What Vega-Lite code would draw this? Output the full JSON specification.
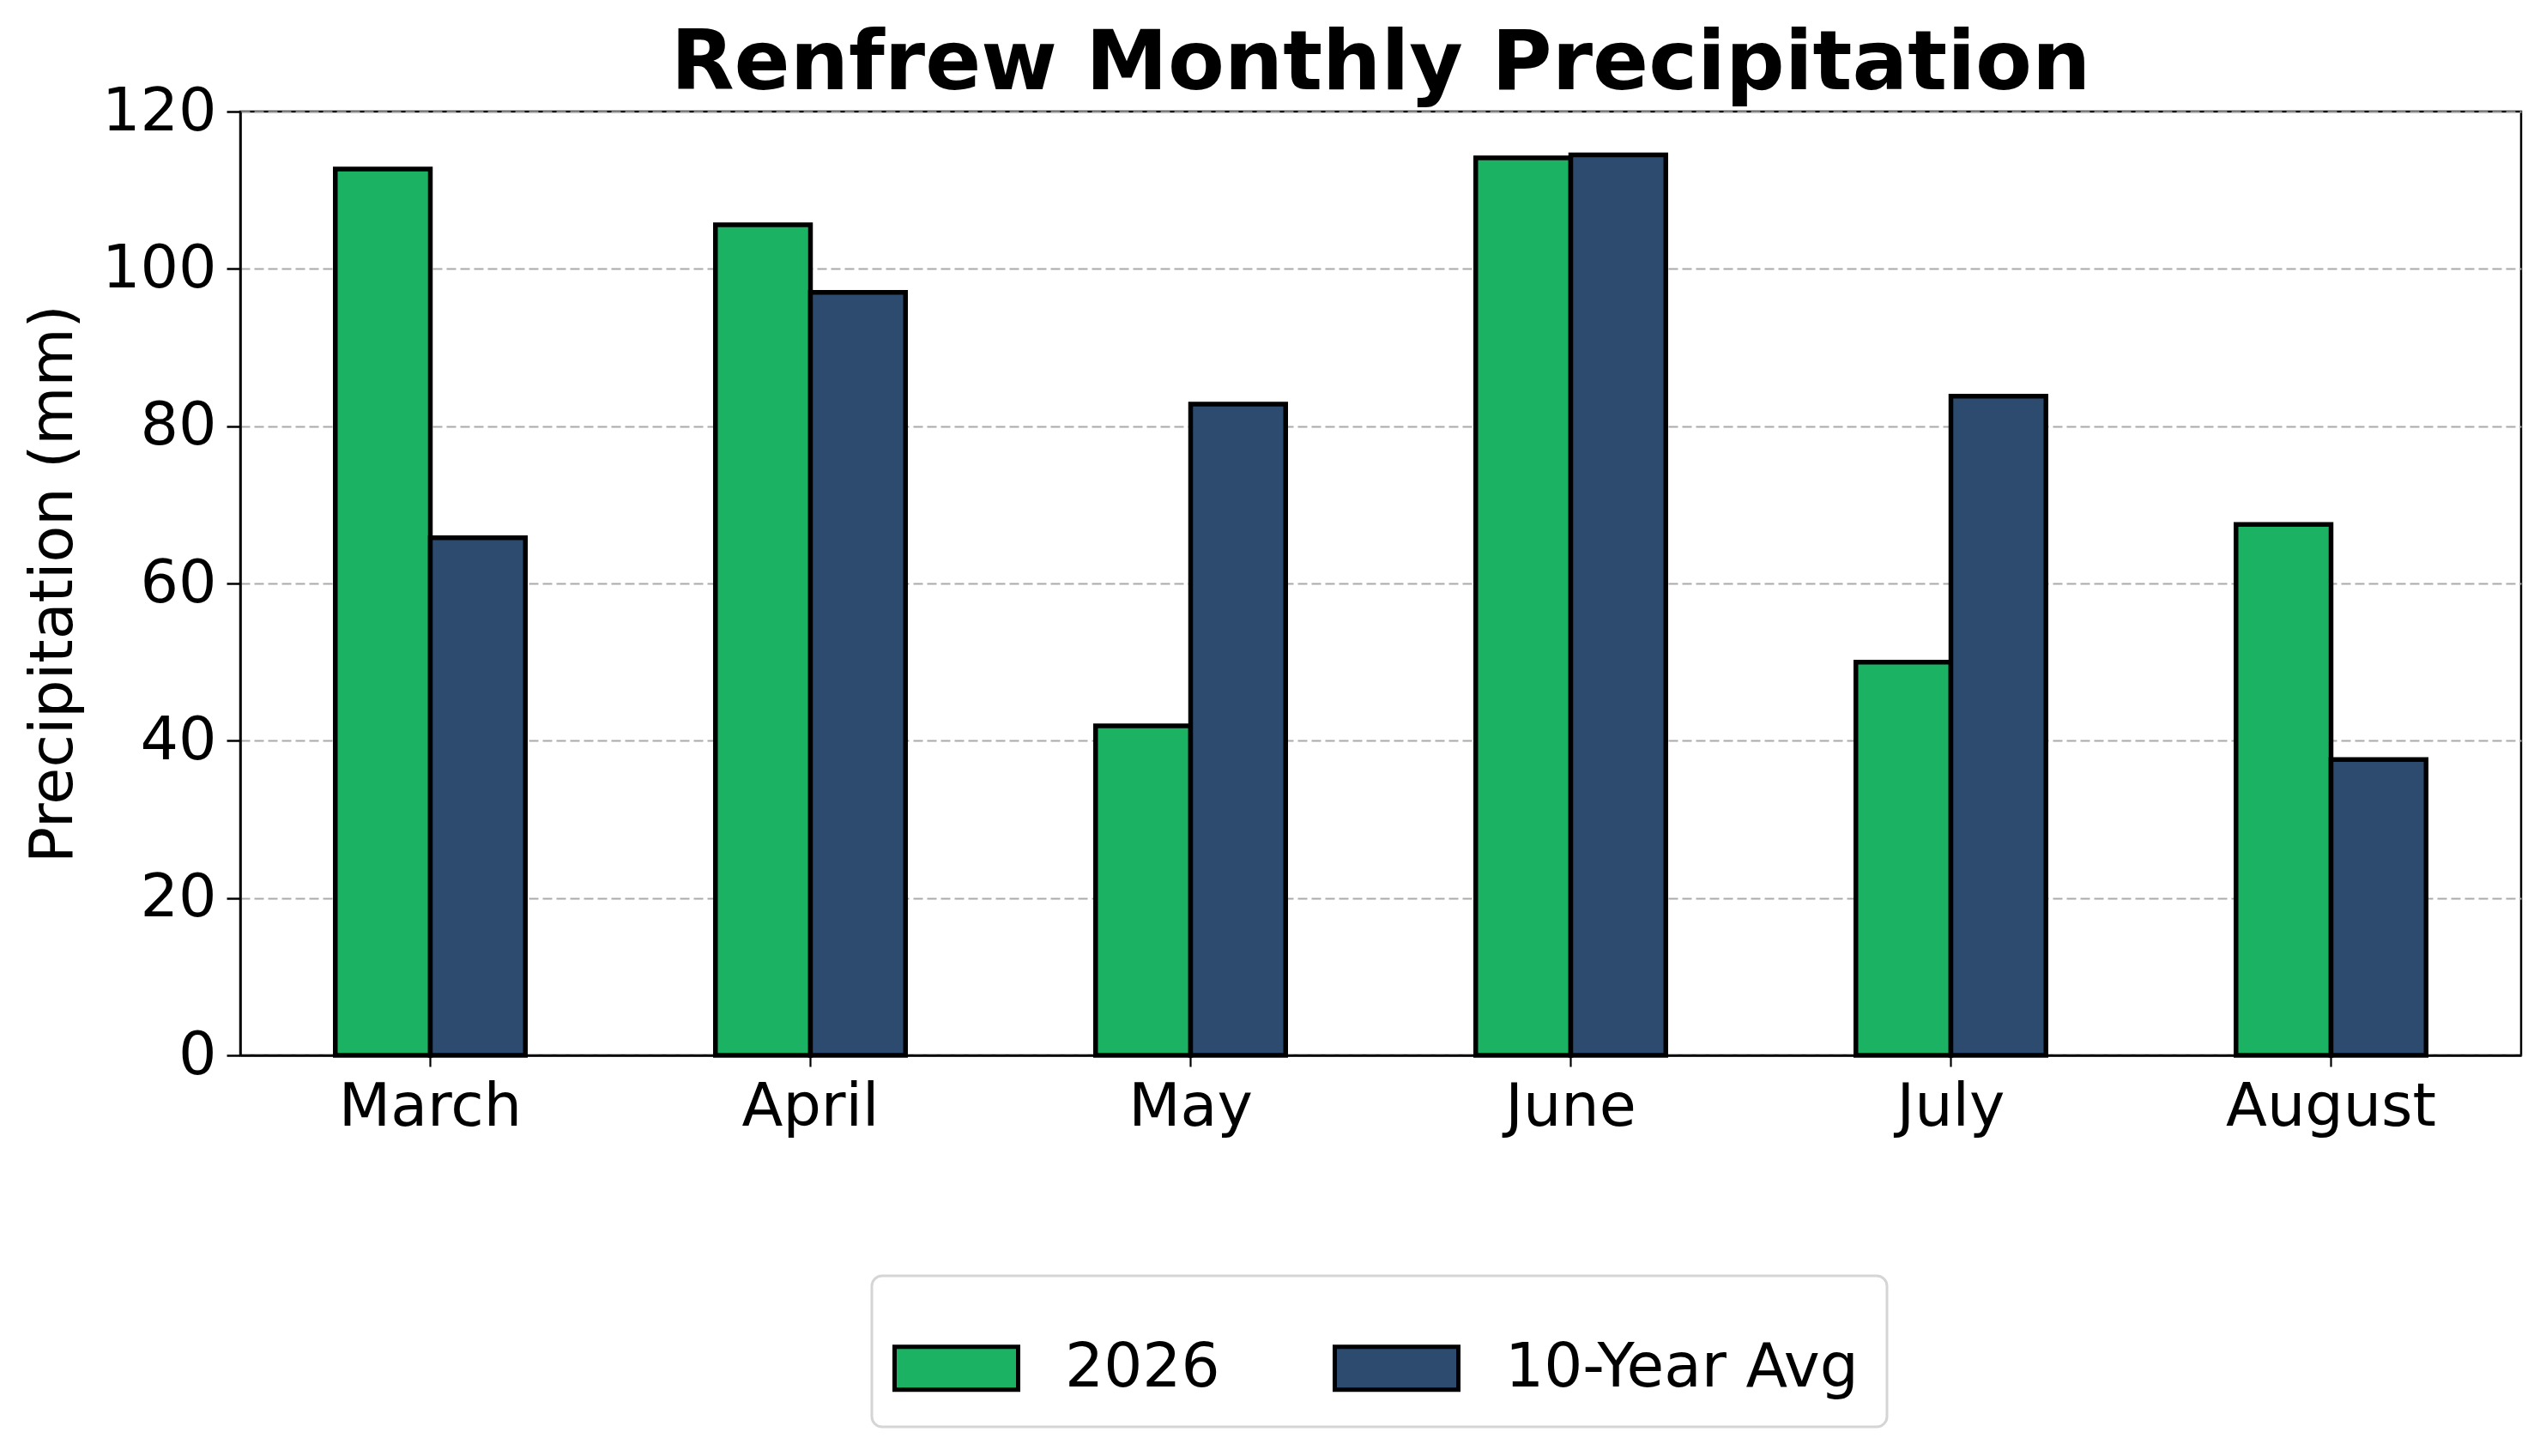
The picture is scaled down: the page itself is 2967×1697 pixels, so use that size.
{
  "$schema": "https://vega.github.io/schema/vega-lite/v6.json",
  "width": 2658,
  "height": 1100,
  "autosize": {"type": "none"},
  "padding": {"left": 280, "top": 130, "right": 29, "bottom": 467},
  "background": "white",
  "title": {
    "text": "Renfrew Monthly Precipitation",
    "font": "DejaVu Sans",
    "fontSize": 96,
    "fontWeight": "bold",
    "color": "black",
    "anchor": "middle",
    "offset": -29
  },
  "data": {
    "values": [
      {"month": "March", "series": "2026", "value": 112.7},
      {"month": "March", "series": "10-Year Avg", "value": 65.8},
      {"month": "April", "series": "2026", "value": 105.6},
      {"month": "April", "series": "10-Year Avg", "value": 97.0},
      {"month": "May", "series": "2026", "value": 41.9},
      {"month": "May", "series": "10-Year Avg", "value": 82.8},
      {"month": "June", "series": "2026", "value": 114.1},
      {"month": "June", "series": "10-Year Avg", "value": 114.5},
      {"month": "July", "series": "2026", "value": 50.0},
      {"month": "July", "series": "10-Year Avg", "value": 83.8},
      {"month": "August", "series": "2026", "value": 67.5},
      {"month": "August", "series": "10-Year Avg", "value": 37.6}
    ]
  },
  "mark": {"type": "bar", "stroke": "black", "strokeWidth": 5.5},
  "encoding": {
    "x": {
      "field": "month",
      "type": "nominal",
      "sort": ["March", "April", "May", "June", "July", "August"],
      "scale": {"paddingInner": 0.5, "paddingOuter": 0.25},
      "axis": {
        "title": null,
        "labelAngle": 0,
        "labelFont": "DejaVu Sans",
        "labelFontSize": 70,
        "labelColor": "black",
        "labelLimit": 1000,
        "labelPadding": 13,
        "tickSize": 13,
        "tickWidth": 2.2,
        "tickColor": "black",
        "domainColor": "black",
        "domainWidth": 2.5,
        "grid": false
      }
    },
    "xOffset": {
      "field": "series",
      "sort": ["2026", "10-Year Avg"],
      "scale": {"paddingInner": 0, "paddingOuter": 0}
    },
    "y": {
      "field": "value",
      "type": "quantitative",
      "scale": {"domain": [0, 120], "nice": false},
      "axis": {
        "title": "Precipitation (mm)",
        "titleFont": "DejaVu Sans",
        "titleFontSize": 70,
        "titleFontWeight": "normal",
        "titleColor": "black",
        "titlePadding": 20,
        "values": [0, 20, 40, 60, 80, 100, 120],
        "labelFont": "DejaVu Sans",
        "labelFontSize": 70,
        "labelColor": "black",
        "labelPadding": 12,
        "tickSize": 16,
        "tickWidth": 2.5,
        "tickColor": "black",
        "domainColor": "black",
        "domainWidth": 2.5,
        "grid": true,
        "gridColor": "#aaaaaa",
        "gridDash": [11, 5],
        "gridWidth": 2
      }
    },
    "color": {
      "field": "series",
      "type": "nominal",
      "sort": ["2026", "10-Year Avg"],
      "scale": {"domain": ["2026", "10-Year Avg"], "range": ["#1bb264", "#2c4b6f"]},
      "legend": {
        "title": null,
        "orient": "none",
        "legendX": 736,
        "legendY": 1357,
        "direction": "horizontal",
        "columns": 2,
        "labelFont": "DejaVu Sans",
        "labelFontSize": 71,
        "labelColor": "black",
        "labelLimit": 1000,
        "symbolType": "M-1.125,-0.347H0.875V0.347H-1.125Z",
        "symbolSize": 20736,
        "symbolStrokeColor": "black",
        "symbolStrokeWidth": 5,
        "symbolOpacity": 1,
        "labelOffset": 43,
        "columnPadding": 123,
        "strokeColor": "#d5d5d5",
        "cornerRadius": 12,
        "fillColor": "white",
        "padding": 33,
        "encode": {"legend": {"update": {"strokeWidth": {"value": 3}}}}
      }
    }
  },
  "config": {
    "view": {"stroke": "black", "strokeWidth": 2.5},
    "font": "DejaVu Sans"
  }
}
